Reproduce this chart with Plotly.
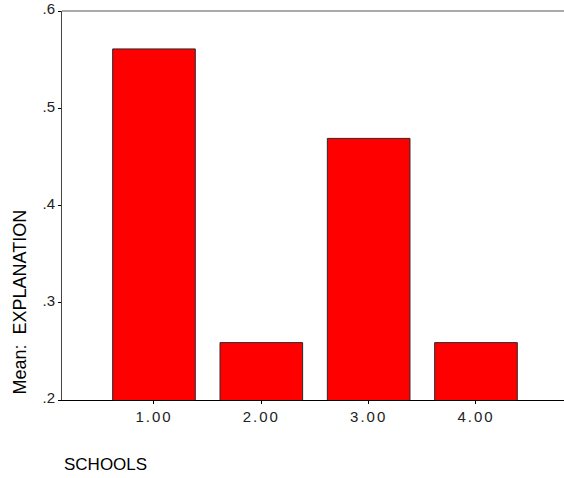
import plotly.graph_objects as go

categories = ["1.00", "2.00", "3.00", "4.00"]
positions = [1, 2, 3, 4]
values = [0.561, 0.259, 0.469, 0.259]
y_ticks = [0.2, 0.3, 0.4, 0.5, 0.6]
y_ticklabels = [".2", ".3", ".4", ".5", ".6"]

fig = go.Figure()
fig.add_trace(go.Bar(
    x=positions, y=values, base=0,
    width=0.77,
    marker=dict(color="#ff0000", line=dict(color="#2a2a2a", width=1)),
))

fig.update_layout(
    width=564, height=478,
    margin=dict(l=62, r=0, t=9, b=78),
    paper_bgcolor="white", plot_bgcolor="white",
    showlegend=False,
    font=dict(family="Liberation Sans, Arial, sans-serif", color="black"),
    xaxis=dict(
        range=[0.143, 4.82],
        tickvals=positions, ticktext=categories,
        ticks="outside", ticklen=3, tickcolor="black",
        showline=True, linecolor="black", linewidth=1,
        showgrid=False, zeroline=False,
        tickfont=dict(size=15, color="#222222"),
    ),
    yaxis=dict(
        range=[0.2, 0.6],
        tickvals=y_ticks, ticktext=y_ticklabels,
        ticks="outside", ticklen=3, tickcolor="black",
        showline=True, linecolor="#444444", linewidth=1,
        showgrid=False, zeroline=False,
        tickfont=dict(size=15, color="#222222"),
        ticklabeloverflow="allow",
        ticklabelshift=-2,
    ),
    shapes=[dict(type="line", xref="paper", yref="paper", x0=0, x1=1, y0=1, y1=1,
                 line=dict(color="#aaaaaa", width=2))],
    annotations=[
        dict(text="Mean:\u00a0\u00a0EXPLANATION", xref="paper", yref="paper",
             x=-0.0837, y=0.253, textangle=-90, showarrow=False,
             xanchor="center", yanchor="middle", font=dict(size=18)),
        dict(text="SCHOOLS", xref="paper", yref="paper",
             x=0.0, y=-0.166, showarrow=False,
             xanchor="left", yanchor="middle", font=dict(size=17)),
    ],
)

post = (
    "document.body.style.margin='0';"
    "document.querySelectorAll('.xtick text').forEach(function(t){t.style.letterSpacing='2px';});"
)
fig.write_html("out.html", post_script=post, config={"displayModeBar": False})
